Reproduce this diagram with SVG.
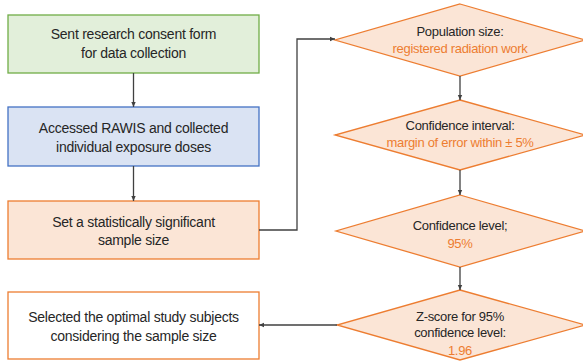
<svg xmlns="http://www.w3.org/2000/svg" width="583" height="361" viewBox="0 0 583 361">
<style>
.t{font-family:"Liberation Sans",Arial,sans-serif;fill:#262626;text-anchor:middle}
.b{font-size:14px;letter-spacing:-0.25px}
.d{font-size:13px;letter-spacing:-0.3px}
.o{fill:#ed7d31}
.c{fill:none;stroke:#404040;stroke-width:1.3}
.dm{fill:#fbe5d6;stroke:#ed7d31;stroke-width:1.3}
</style>
<defs>
<marker id="ah" markerWidth="6" markerHeight="6" refX="5" refY="3" orient="auto" markerUnits="userSpaceOnUse">
<path d="M0,0.8 L5,3 L0,5.2 z" fill="#404040"/>
</marker>
</defs>
<g id="box1">
<rect x="8" y="15" width="251" height="58" fill="#e2efda" stroke="#70ad47" stroke-width="1.3"/>
<text class="t b" x="133.5" y="39">Sent research consent form</text>
<text class="t b" x="133.5" y="58">for data collection</text>
</g>
<g id="box2">
<rect x="8" y="107" width="251" height="59" fill="#dae3f3" stroke="#4472c4" stroke-width="1.3"/>
<text class="t b" x="133.5" y="133">Accessed RAWIS and collected</text>
<text class="t b" x="133.5" y="152">individual exposure doses</text>
</g>
<g id="box3">
<rect x="8" y="201" width="251" height="58" fill="#fbe5d6" stroke="#ed7d31" stroke-width="1.3"/>
<text class="t b" x="133.5" y="227">Set a statistically significant</text>
<text class="t b" x="133.5" y="245">sample size</text>
</g>
<g id="box4">
<rect x="8" y="292" width="251" height="67" fill="#ffffff" stroke="#ed7d31" stroke-width="1.3"/>
<text class="t b" x="133.5" y="322">Selected the optimal study subjects</text>
<text class="t b" x="133.5" y="341">considering the sample size</text>
</g>
<g id="d1">
<polygon class="dm" points="460,4 585,40 460,76 335,40"/>
<text class="t d" x="460" y="35.5">Population size:</text>
<text class="t d o" x="460" y="52.5">registered radiation work</text>
</g>
<g id="d2">
<polygon class="dm" points="460,100 585,135 460,170 335,135"/>
<text class="t d" x="460" y="129.5">Confidence interval:</text>
<text class="t d o" x="460" y="146.5">margin of error within ± 5%</text>
</g>
<g id="d3">
<polygon class="dm" points="460,195 585,231 460,267 336,231"/>
<text class="t d" x="460" y="229.5">Confidence level;</text>
<text class="t d o" x="460" y="247.5">95%</text>
</g>
<g id="d4">
<polygon class="dm" points="460,290 585,325 460,360 337,325"/>
<text class="t d" x="460" y="320.5">Z-score for 95%</text>
<text class="t d" x="460" y="336.5">confidence level:</text>
<text class="t d o" x="460" y="354.5">1.96</text>
</g>
<g id="connectors">
<path class="c" d="M133.5,73 V107" marker-end="url(#ah)"/>
<path class="c" d="M133.5,166 V201" marker-end="url(#ah)"/>
<path class="c" d="M259,230 H297 V39 H335" marker-end="url(#ah)"/>
<path class="c" d="M460,76 V100" marker-end="url(#ah)"/>
<path class="c" d="M460,170 V195" marker-end="url(#ah)"/>
<path class="c" d="M460,267 V290" marker-end="url(#ah)"/>
<path class="c" d="M337,325 H259" marker-end="url(#ah)"/>
</g>
</svg>
